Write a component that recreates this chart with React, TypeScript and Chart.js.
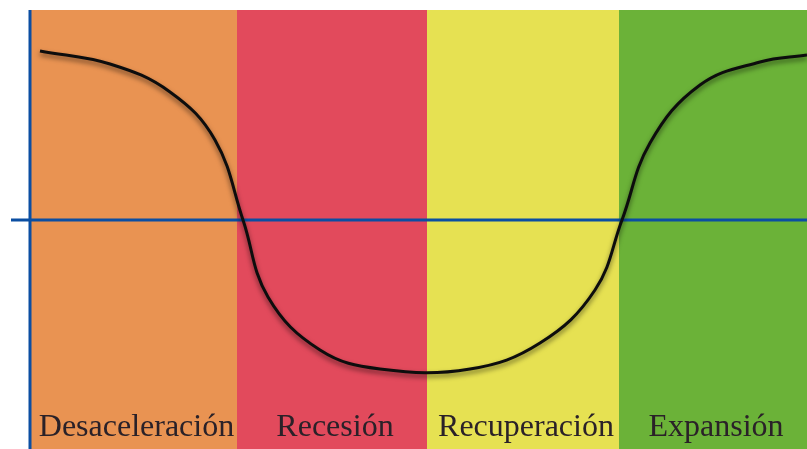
import React, { useEffect, useRef } from "react";
import { Chart, registerables } from "chart.js";

Chart.register(...registerables);

// Business-cycle curve (x: distance from vertical axis, y: height above the horizontal axis)
const curveX = [10, 80, 140, 185, 213, 238, 290, 350, 440, 510, 565, 592, 620, 670, 730, 777];
const curveY = [169, 156, 128, 80, 0, -77, -130, -149, -149, -123, -70, 0, 77, 135, 158, 165];

// Phase bands
const phaseNames = ["Desaceleración", "Recesión", "Recuperación", "Expansión"];
const phaseEdges = [0, 207, 397, 589, 777];
const phaseColors = ["#E99352", "#E24A5C", "#E6E152", "#6BB238"];

const X_MIN = -19;
const X_MAX = 777;
const Y_MIN = -229;
const Y_MAX = 210;

const bandsPlugin = {
  id: "bands",
  beforeDatasetsDraw(chart: any) {
    const { ctx, chartArea, scales } = chart;
    const xs = scales.x;
    const ys = scales.y;
    ctx.save();
    for (let i = 0; i < phaseNames.length; i++) {
      const x0 = xs.getPixelForValue(phaseEdges[i]);
      const x1 = xs.getPixelForValue(phaseEdges[i + 1]);
      ctx.fillStyle = phaseColors[i];
      ctx.fillRect(x0, chartArea.top, x1 - x0, chartArea.bottom - chartArea.top);
    }
    // labels
    ctx.font = "32px 'Liberation Serif', serif";
    ctx.fillStyle = "#2a2128";
    ctx.textAlign = "center";
    ctx.textBaseline = "alphabetic";
    for (let i = 0; i < phaseNames.length; i++) {
      const x0 = xs.getPixelForValue(phaseEdges[i]);
      const x1 = xs.getPixelForValue(phaseEdges[i + 1]);
      ctx.fillText(phaseNames[i], (x0 + x1) / 2 + 3, chartArea.bottom - 13);
    }
    // axes
    ctx.strokeStyle = "#0B4EA2";
    ctx.lineWidth = 3;
    const y0 = ys.getPixelForValue(0);
    ctx.beginPath();
    ctx.moveTo(chartArea.left, y0);
    ctx.lineTo(chartArea.right, y0);
    ctx.stroke();
    const xa = xs.getPixelForValue(0);
    ctx.beginPath();
    ctx.moveTo(xa, chartArea.top);
    ctx.lineTo(xa, chartArea.bottom);
    ctx.stroke();
    ctx.restore();
  },
};

const shadowPlugin = {
  id: "lineShadow",
  beforeDatasetDraw(chart: any) {
    const ctx = chart.ctx;
    ctx.save();
    ctx.shadowColor = "rgba(0,0,0,0.55)";
    ctx.shadowBlur = 5;
    ctx.shadowOffsetX = 0;
    ctx.shadowOffsetY = 3;
  },
  afterDatasetDraw(chart: any) {
    chart.ctx.restore();
  },
};

export default function App() {
  const ref = useRef<HTMLCanvasElement | null>(null);
  useEffect(() => {
    if (!ref.current) return;
    const chart = new Chart(ref.current, {
      type: "line",
      data: {
        datasets: [
          {
            data: curveX.map((x, i) => ({ x, y: curveY[i] })),
            borderColor: "#0d0d0d",
            borderWidth: 3,
            pointRadius: 0,
            tension: 0.4,
            fill: false,
          },
        ],
      },
      options: {
        animation: false,
        responsive: false,
        layout: { padding: { left: 11, top: 10, right: 0, bottom: 0 } },
        plugins: { legend: { display: false }, tooltip: { enabled: false } },
        scales: {
          x: { type: "linear", min: X_MIN, max: X_MAX, display: false },
          y: { type: "linear", min: Y_MIN, max: Y_MAX, display: false },
        },
      },
      plugins: [bandsPlugin, shadowPlugin],
    });
    return () => chart.destroy();
  }, []);
  return (
    <div style={{ position: "absolute", left: 0, top: 0, width: 807, height: 449, background: "#fff" }}>
      <canvas ref={ref} width={807} height={449} style={{ display: "block" }} />
    </div>
  );
}
